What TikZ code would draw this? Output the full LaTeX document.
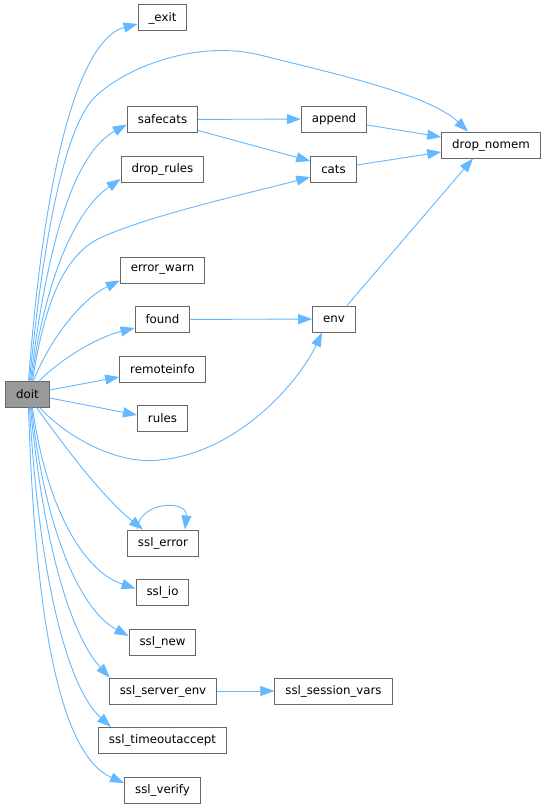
\documentclass[tikz,border=0pt]{standalone}
\usepackage{fontspec}
\setmainfont{DejaVu Sans}
\usetikzlibrary{arrows.meta}
\definecolor{edgeblue}{HTML}{63B8FF}
\definecolor{boxgray}{HTML}{666666}
\definecolor{rootgray}{HTML}{999999}

\begin{document}
\begin{tikzpicture}[x=1pt, y=-1pt,
    fn/.style={draw=boxgray, line width=1pt, fill=white, minimum height=26pt,
        inner xsep=10.5pt, inner ysep=0pt, font=\fontsize{11.8}{14}\selectfont},
    call/.style={edgeblue, line width=0.9pt, -{Triangle[length=14pt,width=10pt]}}]
    % Canvas
    \fill[white] (0,0) rectangle (547,808);
    \useasboundingbox (0,0) rectangle (547,808);

    % Caller
    \node[fn, fill=rootgray] (doit) at (27.5,394) {doit};

    % Direct callees
    \node[fn] (exitfn) at (162.5,18) {\_exit};
    \node[fn] (safecats) at (162.5,119.5) {safecats};
    \node[fn] (droprules) at (162.5,169) {drop\_rules};
    \node[fn] (errorwarn) at (162.5,270) {error\_warn};
    \node[fn] (found) at (162.5,319.5) {found};
    \node[fn] (remoteinfo) at (162.5,369) {remoteinfo};
    \node[fn] (rules) at (162.5,418) {rules};
    \node[fn] (sslerror) at (163,543) {ssl\_error};
    \node[fn] (sslio) at (162.5,592.5) {ssl\_io};
    \node[fn] (sslnew) at (162.5,642) {ssl\_new};
    \node[fn] (sslserverenv) at (163,691) {ssl\_server\_env};
    \node[fn] (ssltimeout) at (162.5,740.5) {ssl\_timeoutaccept};
    \node[fn] (sslverify) at (162.5,790) {ssl\_verify};

    % Second level
    \node[fn] (append) at (334,119) {append};
    \node[fn] (cats) at (333.5,169) {cats};
    \node[fn] (env) at (334,319) {env};
    \node[fn] (sslsession) at (333.5,691) {ssl\_session\_vars};
    \node[fn] (dropnomem) at (491,145) {drop\_nomem};

    % Calls going up from doit
    \draw[call] ([xshift=1pt]doit.north) .. controls (50,100) and (95,35) .. ([yshift=-6pt]exitfn.west);
    \draw[call] ([xshift=2pt]doit.north) .. controls (45,220) and (68,120) .. (97,95)
        .. controls (130,65) and (200,40) .. (260,55)
        .. controls (340,75) and (430,95) .. ([xshift=-23pt]dropnomem.north);
    \draw[call] ([xshift=3pt]doit.north) .. controls (50,220) and (80,150) .. ([yshift=-5pt]safecats.west);
    \draw[call] ([xshift=4pt]doit.north) .. controls (45,280) and (75,210) .. ([yshift=-10pt]droprules.west);
    \draw[call] ([xshift=5pt]doit.north) .. controls (45,300) and (65,255) .. (100,238)
        .. controls (150,215) and (250,193) .. ([yshift=-8pt]cats.west);
    \draw[call] ([xshift=6pt]doit.north) .. controls (50,340) and (80,300) .. ([yshift=3pt]errorwarn.south west);
    \draw[call] ([xshift=12pt]doit.north) .. controls (60,360) and (95,338) .. ([yshift=-8.5pt]found.west);
    \draw[call] ([yshift=4pt]doit.east) -- ([yshift=-8pt]remoteinfo.west);

    % Calls going down from doit
    \draw[call] ([yshift=-4pt]doit.east) -- ([yshift=3pt]rules.west);
    \draw[call] ([xshift=12pt]doit.south) .. controls (70,440) and (120,465) .. (160,460)
        .. controls (240,452) and (300,380) .. ([xshift=-12pt]env.south);
    \draw[call] ([xshift=9pt]doit.south) .. controls (60,440) and (100,495) .. ([xshift=-20pt]sslerror.north);
    \draw[call] ([xshift=-26pt]sslerror.north) .. controls (140,500) and (188,500) .. ([xshift=22pt]sslerror.north);
    \draw[call] ([xshift=5pt]doit.south) .. controls (45,500) and (80,570) .. ([yshift=4pt]sslio.west);
    \draw[call] ([xshift=4pt]doit.south) .. controls (45,530) and (80,610) .. ([yshift=6pt]sslnew.west);
    \draw[call] ([xshift=3pt]doit.south) .. controls (45,560) and (75,640) .. ([xshift=1pt]sslserverenv.north west);
    \draw[call] ([xshift=2pt]doit.south) .. controls (40,590) and (70,690) .. ([xshift=13pt]ssltimeout.north west);
    \draw[call] ([xshift=1pt]doit.south) .. controls (35,620) and (60,755) .. ([yshift=7pt]sslverify.west);

    % Calls between callees
    \draw[call] (safecats) -- (append);
    \draw[call] ([yshift=-11pt]safecats.east) -- ([yshift=8pt]cats.west);
    \draw[call] ([yshift=-6pt]append.east) -- ([yshift=8pt]dropnomem.west);
    \draw[call] ([yshift=4pt]cats.east) -- ([yshift=-7pt]dropnomem.west);
    \draw[call] (found) -- (env);
    \draw[call] ([xshift=13pt]env.north) -- ([xshift=-18pt]dropnomem.south);
    \draw[call] (sslserverenv) -- (sslsession);
\end{tikzpicture}
\end{document}
